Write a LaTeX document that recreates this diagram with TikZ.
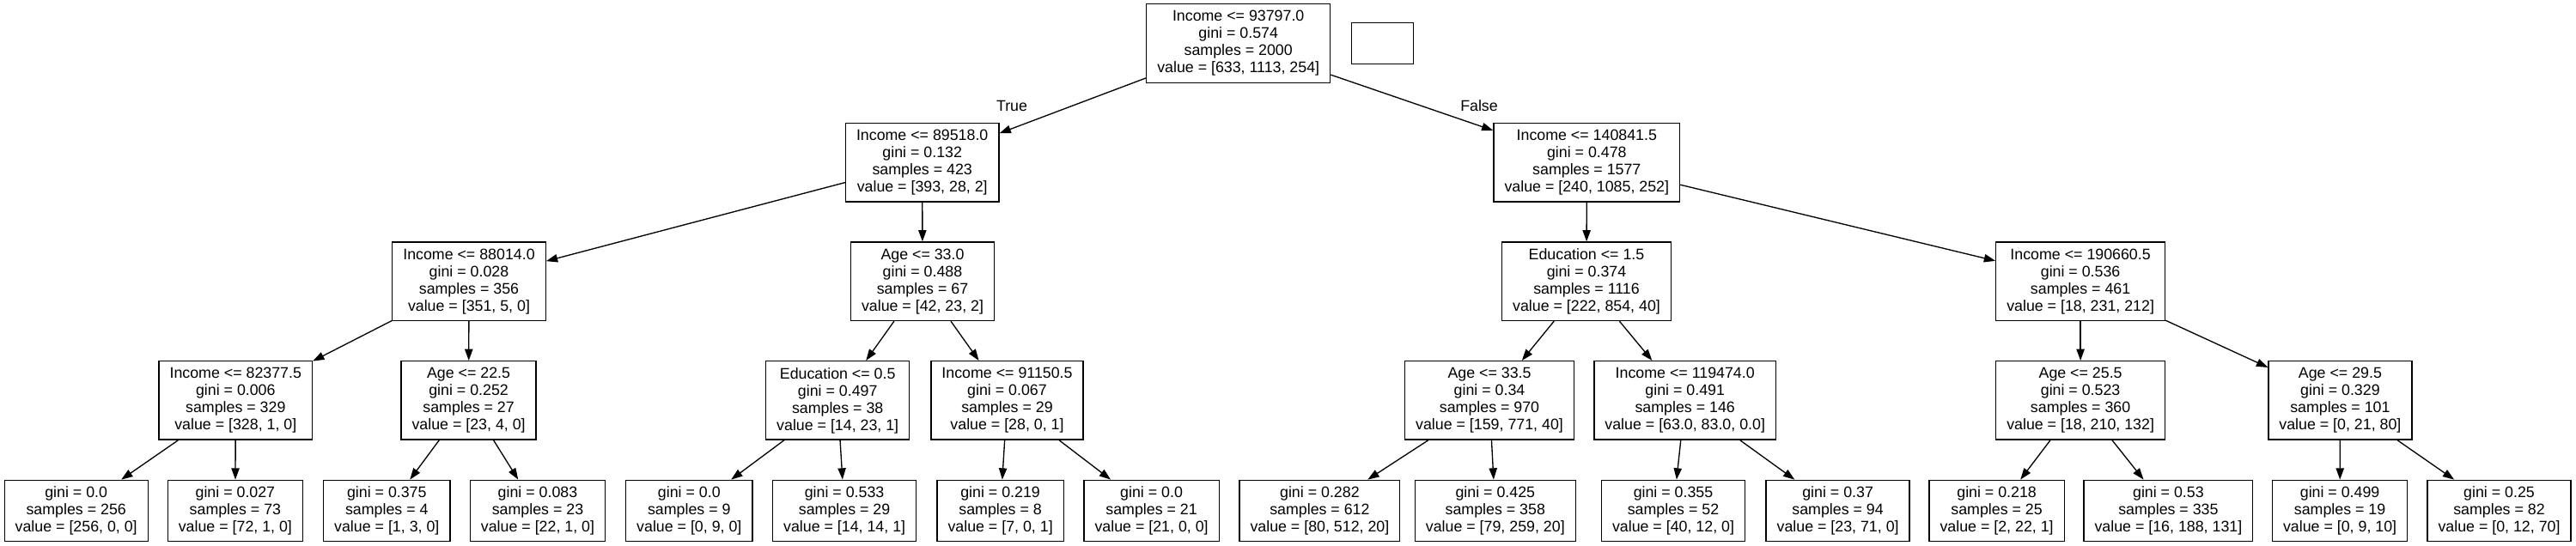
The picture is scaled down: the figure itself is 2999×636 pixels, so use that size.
\documentclass[tikz,border=0pt]{standalone}
\usepackage{fontspec}
\setmainfont{Liberation Sans}
\usetikzlibrary{arrows.meta}
\begin{document}
\begin{tikzpicture}[x=1pt,y=-1pt,
  tn/.style={draw=black, line width=1.33pt, align=center, inner xsep=12.5pt, inner ysep=0pt,
     minimum height=91.5pt, font=\fontsize{17.8pt}{20pt}\selectfont},
  lf/.style={tn, minimum height=71.5pt},
  arr/.style={draw=black, line width=1.33pt, -{Triangle[length=13.3pt,width=9.3pt]}},
  lab/.style={anchor=base, inner sep=0pt, font=\fontsize{17.8pt}{20pt}\selectfont}]
\fill[white] (0,0) rectangle (2999,636);
\useasboundingbox (0,0) rectangle (2999,636);
% level 0
\node[tn] (root) at (1441.7,50.45) {Income <= 93797.0\\gini = 0.574\\samples = 2000\\value = [633, 1113, 254]};
\node[draw=black, line width=1.33pt, minimum width=72pt, minimum height=47.5pt, inner sep=0pt] (legend) at (1609.8,50.45) {};
% level 1
\node[tn] (L1) at (1073.7,189.1) {Income <= 89518.0\\gini = 0.132\\samples = 423\\value = [393, 28, 2]};
\node[tn] (R1) at (1847.3,189.1) {Income <= 140841.5\\gini = 0.478\\samples = 1577\\value = [240, 1085, 252]};
% level 2
\node[tn] (L2a) at (546,327.75) {Income <= 88014.0\\gini = 0.028\\samples = 356\\value = [351, 5, 0]};
\node[tn] (L2b) at (1074,327.75) {Age <= 33.0\\gini = 0.488\\samples = 67\\value = [42, 23, 2]};
\node[tn] (R2a) at (1847,327.75) {Education <= 1.5\\gini = 0.374\\samples = 1116\\value = [222, 854, 40]};
\node[tn] (R2b) at (2422.1,327.75) {Income <= 190660.5\\gini = 0.536\\samples = 461\\value = [18, 231, 212]};
% level 3
\node[tn] (L3a) at (274.3,466.4) {Income <= 82377.5\\gini = 0.006\\samples = 329\\value = [328, 1, 0]};
\node[tn] (L3b) at (545.6,466.4) {Age <= 22.5\\gini = 0.252\\samples = 27\\value = [23, 4, 0]};
\node[tn] (L3c) at (975.2,466.4) {Education <= 0.5\\gini = 0.497\\samples = 38\\value = [14, 23, 1]};
\node[tn] (L3d) at (1172.5,466.4) {Income <= 91150.5\\gini = 0.067\\samples = 29\\value = [28, 0, 1]};
\node[tn] (R3a) at (1734,466.4) {Age <= 33.5\\gini = 0.34\\samples = 970\\value = [159, 771, 40]};
\node[tn] (R3b) at (1961.7,466.4) {Income <= 119474.0\\gini = 0.491\\samples = 146\\value = [63.0, 83.0, 0.0]};
\node[tn] (R3c) at (2422.1,466.4) {Age <= 25.5\\gini = 0.523\\samples = 360\\value = [18, 210, 132]};
\node[tn] (R3d) at (2724.4,466.4) {Age <= 29.5\\gini = 0.329\\samples = 101\\value = [0, 21, 80]};
% leaves
\node[lf] (f1) at (88.7,595.05) {gini = 0.0\\samples = 256\\value = [256, 0, 0]};
\node[lf] (f2) at (273.9,595.05) {gini = 0.027\\samples = 73\\value = [72, 1, 0]};
\node[lf] (f3) at (450.3,595.05) {gini = 0.375\\samples = 4\\value = [1, 3, 0]};
\node[lf] (f4) at (626,595.05) {gini = 0.083\\samples = 23\\value = [22, 1, 0]};
\node[lf] (f5) at (802.3,595.05) {gini = 0.0\\samples = 9\\value = [0, 9, 0]};
\node[lf] (f6) at (983.1,595.05) {gini = 0.533\\samples = 29\\value = [14, 14, 1]};
\node[lf] (f7) at (1164.6,595.05) {gini = 0.219\\samples = 8\\value = [7, 0, 1]};
\node[lf] (f8) at (1340.6,595.05) {gini = 0.0\\samples = 21\\value = [21, 0, 0]};
\node[lf] (f9) at (1536.4,595.05) {gini = 0.282\\samples = 612\\value = [80, 512, 20]};
\node[lf] (f10) at (1740.8,595.05) {gini = 0.425\\samples = 358\\value = [79, 259, 20]};
\node[lf] (f11) at (1948,595.05) {gini = 0.355\\samples = 52\\value = [40, 12, 0]};
\node[lf] (f12) at (2139.6,595.05) {gini = 0.37\\samples = 94\\value = [23, 71, 0]};
\node[lf] (f13) at (2324.6,595.05) {gini = 0.218\\samples = 25\\value = [2, 22, 1]};
\node[lf] (f14) at (2524.4,595.05) {gini = 0.53\\samples = 335\\value = [16, 188, 131]};
\node[lf] (f15) at (2724.1,595.05) {gini = 0.499\\samples = 19\\value = [0, 9, 10]};
\node[lf] (f16) at (2909.5,595.05) {gini = 0.25\\samples = 82\\value = [0, 12, 70]};
% edge labels
\node[lab] (tlab) at (1178,129.5) {True};
\node[lab] (flab) at (1722,129.5) {False};
% edges
\draw[arr] (root) -- (L1);
\draw[arr] (root) -- (R1);
\draw[arr] (L1) -- (L2a);
\draw[arr] (L1) -- (L2b);
\draw[arr] (R1) -- (R2a);
\draw[arr] (R1) -- (R2b);
\draw[arr] (L2a) -- (L3a);
\draw[arr] (L2a) -- (L3b);
\draw[arr] (L2b) -- (L3c);
\draw[arr] (L2b) -- (L3d);
\draw[arr] (R2a) -- (R3a);
\draw[arr] (R2a) -- (R3b);
\draw[arr] (R2b) -- (R3c);
\draw[arr] (R2b) -- (R3d);
\draw[arr] (L3a) -- (f1);
\draw[arr] (L3a) -- (f2);
\draw[arr] (L3b) -- (f3);
\draw[arr] (L3b) -- (f4);
\draw[arr] (L3c) -- (f5);
\draw[arr] (L3c) -- (f6);
\draw[arr] (L3d) -- (f7);
\draw[arr] (L3d) -- (f8);
\draw[arr] (R3a) -- (f9);
\draw[arr] (R3a) -- (f10);
\draw[arr] (R3b) -- (f11);
\draw[arr] (R3b) -- (f12);
\draw[arr] (R3c) -- (f13);
\draw[arr] (R3c) -- (f14);
\draw[arr] (R3d) -- (f15);
\draw[arr] (R3d) -- (f16);
\end{tikzpicture}
\end{document}
